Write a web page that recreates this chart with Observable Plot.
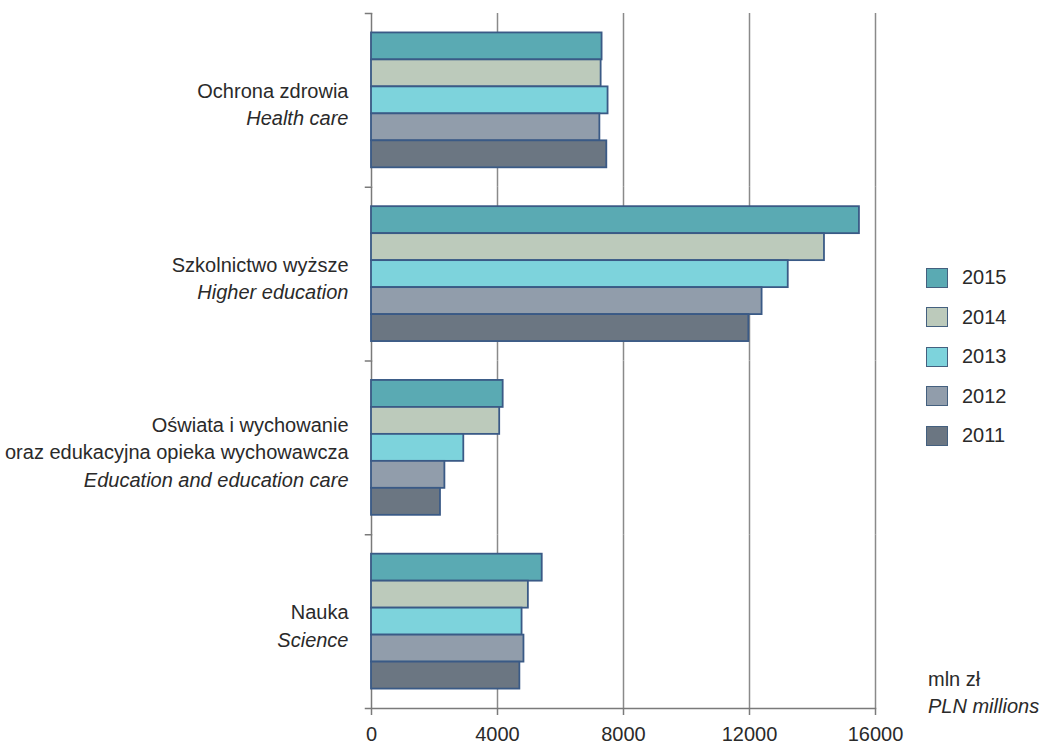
<!DOCTYPE html>
<html><head><meta charset="utf-8">
<script src="https://cdn.jsdelivr.net/npm/d3@7"></script>
<script src="https://cdn.jsdelivr.net/npm/@observablehq/plot@0.6"></script>
<style>
body{margin:0;background:#fff;}
#wrap{position:relative;width:1041px;height:744px;font-family:'Liberation Sans',Arial,sans-serif;color:#2a2a2a;}
#legend{position:absolute;left:926px;top:258px;}
.row{display:flex;align-items:center;height:39.5px;font-size:20px;}
.sw{width:22px;height:20px;border:1.5px solid #44607f;margin-right:14px;box-sizing:border-box;}
#unit{position:absolute;left:928px;top:666px;font-size:20px;line-height:27px;}
</style></head>
<body><div id="wrap"><div id="chart"></div><div id="legend"></div><div id="unit"><div>mln zł</div><div style="font-style:italic">PLN millions</div></div></div>
<script>
const catsPl = ["Ochrona zdrowia", "Szkolnictwo wyższe", "Oświata i wychowanie\noraz edukacyjna opieka wychowawcza", "Nauka"];
const catsEn = ["Health care", "Higher education", "Education and education care", "Science"];
const years = ["2015", "2014", "2013", "2012", "2011"];
const v2015 = [7320, 15490, 4180, 5420];
const v2014 = [7290, 14380, 4070, 4980];
const v2013 = [7510, 13230, 2930, 4780];
const v2012 = [7250, 12400, 2330, 4840];
const v2011 = [7470, 11980, 2190, 4710];
const colors = ["#5aaab3", "#bccabb", "#7dd3dc", "#919dab", "#6b7682"];
const xTicks = [0, 4000, 8000, 12000, 16000];

const series = [v2015, v2014, v2013, v2012, v2011];
const rows = [];
catsEn.forEach((c, i) => years.forEach((y, j) => rows.push({cat: c, year: y, value: series[j][i]})));
const catRows = catsEn.map((c, i) => ({cat: c, pl: catsPl[i], en: c}));

const W = 1041, H = 744, ML = 371, MR = 166, MT = 13, MB = 36;
const plotW = W - ML - MR;

const chart = Plot.plot({
  width: W, height: H,
  marginLeft: ML, marginRight: MR, marginTop: MT, marginBottom: MB,
  style: {fontFamily: "'Liberation Sans', Arial, sans-serif", fontSize: "20px", color: "#2a2a2a", background: "white"},
  x: {domain: [0, 16000], axis: null},
  y: {domain: years, paddingInner: 0, paddingOuter: 0.72, round: false, axis: null},
  fy: {domain: catsEn, padding: 0, round: false, axis: null},
  color: {domain: years, range: colors},
  marks: [
    Plot.ruleX(xTicks.slice(1), {stroke: "#8a8a8a", strokeWidth: 1.5}),
    Plot.ruleX([0], {stroke: "#7a7a7a", strokeWidth: 1.5}),
    Plot.frame({anchor: "top", insetLeft: -6, insetRight: plotW, stroke: "#7a7a7a", strokeWidth: 1.5}),
    Plot.frame({anchor: "bottom", facetAnchor: "bottom", insetLeft: -6, stroke: "#7a7a7a", strokeWidth: 1.5}),
    Plot.barX(rows, {fy: "cat", y: "year", x: "value", fill: "year", stroke: "#3a5a86", strokeWidth: 1.8}),
    Plot.text(catRows, {fy: "cat", frameAnchor: "left", text: d => d.pl + "\n", dx: -23, dy: 2.5, textAnchor: "end", lineAnchor: "middle", lineHeight: 1.375, fontSize: 20, fill: "#2a2a2a"}),
    Plot.text(catRows, {fy: "cat", frameAnchor: "left", text: d => "\n".repeat(d.pl.split("\n").length) + d.en, dx: -23, dy: 2.5, textAnchor: "end", lineAnchor: "middle", lineHeight: 1.375, fontSize: 20, fontStyle: "italic", fill: "#2a2a2a"}),
    Plot.axisX({ticks: xTicks, tickSize: 7, tickPadding: 11, tickFormat: d3.format("d"), stroke: "#7a7a7a", strokeWidth: 1.5, fill: "#2a2a2a", label: null, facetAnchor: "bottom"})
  ]
});
document.getElementById("chart").appendChild(chart);

const legend = d3.select("#legend");
years.forEach((y, i) => {
  const r = legend.append("div").attr("class", "row");
  r.append("div").attr("class", "sw").style("background", colors[i]);
  r.append("span").text(y);
});
</script>
</body></html>
